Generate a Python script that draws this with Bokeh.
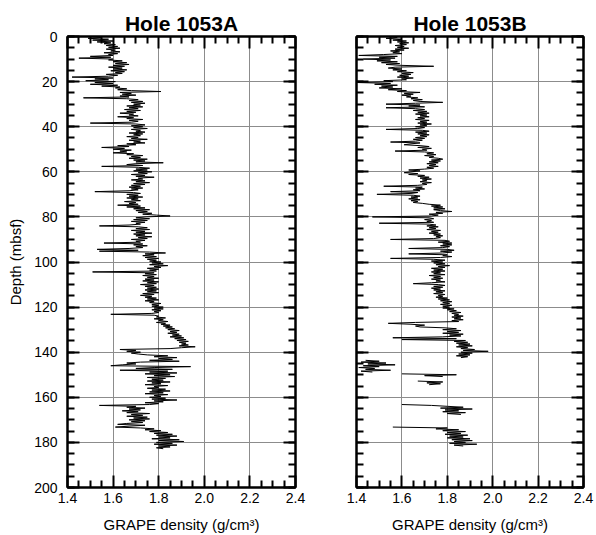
from bokeh.plotting import figure
from bokeh.models import (Range1d, LinearAxis, Grid, SingleIntervalTicker, FixedTicker,
                          PrintfTickFormatter, ColumnDataSource, CustomLabelingPolicy)
from bokeh.layouts import row
from bokeh.embed import file_html
from bokeh.resources import INLINE

NaN = float("nan")

# GRAPE bulk density log, Hole 1053A (depth in mbsf, density in g/cm3)
depth_a = [
    0.4, 0.8, 1.2, 1.6, 2.0, 2.4, 2.8, 3.2, 3.6, 4.0,
    4.4, 4.8, 5.2, 5.6, 6.0, 6.4, 6.8, 7.2, 7.6, 8.0,
    8.4, 8.8, 9.2, 9.6, 10.0, 10.4, 10.8, 11.2, 11.6, 12.0,
    12.4, 12.8, 13.2, 13.6, 14.0, 14.4, 14.8, 15.2, 15.6, 16.0,
    16.4, 16.8, 17.2, 17.6, 18.0, 18.4, 18.8, 19.2, 19.6, 20.0,
    20.4, 20.8, 21.2, 21.6, 22.0, 22.4, 22.8, 23.2, 23.6, 24.0,
    24.4, 24.8, 25.2, 25.6, 26.0, 26.4, 26.8, 27.2, 27.6, 28.0,
    28.4, 28.8, 29.2, 29.6, 30.0, 30.4, 30.8, 31.2, 31.6, 32.0,
    32.4, 32.8, 33.2, 33.6, 34.0, 34.4, 34.8, 35.2, 35.6, 36.0,
    36.4, 36.8, 37.2, 37.6, 38.0, 38.4, 38.8, 39.2, 39.6, 40.0,
    40.4, 40.8, 41.2, 41.6, 42.0, 42.4, 42.8, 43.2, 43.6, 44.0,
    44.4, 44.8, 45.2, 45.6, 46.0, 46.4, 46.8, 47.2, 47.6, 48.0,
    48.4, 48.8, 49.2, 49.6, 50.0, 50.4, 50.8, 51.2, 51.6, 52.0,
    52.4, 52.8, 53.2, 53.6, 54.0, 54.4, 54.8, 55.2, 55.6, 56.0,
    56.4, 56.8, 57.2, 57.6, 58.0, 58.4, 58.8, 59.2, 59.6, 60.0,
    60.4, 60.8, 61.2, 61.6, 62.0, 62.4, 62.8, 63.2, 63.6, 64.0,
    64.4, 64.8, 65.2, 65.6, 66.0, 66.4, 66.8, 67.2, 67.6, 68.0,
    68.4, 68.8, 69.2, 69.6, 70.0, 70.4, 70.8, 71.2, 71.6, 72.0,
    72.4, 72.8, 73.2, 73.6, 74.0, 74.4, 74.8, 75.2, 75.6, 76.0,
    76.4, 76.8, 77.2, 77.6, 78.0, 78.4, 78.8, 79.2, 79.6, 80.0,
    80.4, 80.8, 81.2, 81.6, 82.0, 82.4, 82.8, 83.2, 83.6, 84.0,
    84.4, 84.8, 85.2, 85.6, 86.0, 86.4, 86.8, 87.2, 87.6, 88.0,
    88.4, 88.8, 89.2, 89.6, 90.0, 90.4, 90.8, 91.2, 91.6, 92.0,
    92.4, 92.8, 93.2, 93.6, 94.0, 94.4, 94.8, 95.2, 95.6, 96.0,
    96.4, 96.8, 97.2, 97.6, 98.0, 98.4, 98.8, 99.2, 99.6, 100.0,
    100.4, 100.8, 101.2, 101.6, 102.0, 102.4, 102.8, 103.2, 103.6, 104.0,
    104.4, 104.8, 105.2, 105.6, 106.0, 106.4, 106.8, 107.2, 107.6, 108.0,
    108.4, 108.8, 109.2, 109.6, 110.0, 110.4, 110.8, 111.2, 111.6, 112.0,
    112.4, 112.8, 113.2, 113.6, 114.0, 114.4, 114.8, 115.2, 115.6, 116.0,
    116.4, 116.8, 117.2, 117.6, 118.0, 118.4, 118.8, 119.2, 119.6, 120.0,
    120.4, 120.8, 121.2, 121.6, 122.0, 122.4, 122.8, 123.2, 123.6, 124.0,
    124.4, 124.8, 125.2, 125.6, 126.0, 126.4, 126.8, 127.2, 127.6, 128.0,
    128.4, 128.8, 129.2, 129.6, 130.0, 130.4, 130.8, 131.2, 131.6, 132.0,
    132.4, 132.8, 133.2, 133.6, 134.0, 134.4, 134.8, 135.2, 135.6, 136.0,
    136.4, 136.8, 137.2, 137.6, 138.0, 138.4, 138.8, 139.2, 139.6, 140.0,
    140.4, 140.8, 141.2, 141.6, 142.0, 142.4, 142.8, 143.2, 143.6, 144.0,
    144.4, 144.8, 145.2, 145.6, 146.0, 146.4, 146.8, 147.2, 147.6, 148.0,
    148.4, 148.8, 149.2, 149.6, 150.0, 150.4, 150.8, 151.2, 151.6, 152.0,
    152.4, 152.8, 153.2, 153.6, 154.0, 154.4, 154.8, 155.2, 155.6, 156.0,
    156.4, 156.8, 157.2, 157.6, 158.0, 158.4, 158.8, 159.2, 159.6, 160.0,
    160.4, 160.8, 161.2, 161.6, 162.0, 162.4, 162.8, 163.2, 163.6, 164.0,
    164.4, 164.8, 165.2, 165.6, 166.0, 166.4, 166.8, 167.2, 167.6, 168.0,
    168.4, 168.8, 169.2, 169.6, 170.0, 170.4, 170.8, 171.2, 171.6, 172.0,
    172.4, 172.8, 173.2, 173.6, 174.0, 174.4, 174.8, 175.2, 175.6, 176.0,
    176.4, 176.8, 177.2, 177.6, 178.0, 178.4, 178.8, 179.2, 179.6, 180.0,
    180.4, 180.8, 181.2, 181.6, 182.0, 182.4, 182.8,
]
density_a = [
    1.55, 1.49, 1.58, 1.51, 1.60, 1.53, 1.59, 1.56, 1.61, 1.57,
    1.62, 1.58, 1.63, 1.57, 1.61, 1.59, 1.63, 1.56, 1.62, 1.58,
    1.60, 1.50, 1.59, 1.45, 1.60, 1.58, 1.64, 1.60, 1.66, 1.61,
    1.67, 1.60, 1.65, 1.58, 1.64, 1.60, 1.66, 1.59, 1.65, 1.61,
    1.64, 1.57, 1.62, 1.58, 1.42, 1.60, 1.52, 1.58, 1.48, 1.61,
    1.52, 1.60, 1.50, 1.62, 1.55, 1.63, 1.61, 1.66, 1.62, 1.68,
    1.81, 1.63, 1.68, 1.64, 1.70, 1.63, 1.67, 1.47, 1.66, 1.71,
    1.67, 1.73, 1.68, 1.74, 1.69, 1.72, 1.66, 1.73, 1.67, 1.71,
    1.65, 1.72, 1.66, 1.70, 1.63, 1.69, 1.67, 1.71, 1.62, 1.69,
    1.66, 1.73, 1.67, 1.71, 1.68, 1.50, 1.70, 1.74, 1.68, 1.73,
    1.69, 1.75, 1.68, 1.72, 1.70, 1.74, 1.67, 1.73, 1.69, 1.72,
    1.66, 1.71, 1.68, 1.75, 1.67, 1.72, 1.69, 1.74, 1.66, 1.70,
    1.62, 1.67, 1.55, 1.65, 1.60, 1.68, 1.63, 1.66, 1.60, 1.69,
    1.66, 1.73, 1.68, 1.72, 1.67, 1.75, 1.69, 1.74, 1.70, 1.82,
    1.70, 1.66, 1.73, 1.55, 1.71, 1.76, 1.70, 1.75, 1.69, 1.77,
    1.71, 1.75, 1.68, 1.74, 1.70, 1.78, 1.71, 1.73, 1.68, 1.74,
    1.70, 1.76, 1.69, 1.74, 1.68, 1.72, 1.67, 1.73, 1.68, 1.71,
    1.67, 1.52, 1.69, 1.72, 1.66, 1.71, 1.67, 1.73, 1.66, 1.71,
    1.68, 1.72, 1.65, 1.70, 1.67, 1.71, 1.62, 1.72, 1.66, 1.74,
    1.69, 1.76, 1.70, 1.75, 1.71, 1.77, 1.73, 1.79, 1.85, 1.74,
    1.70, 1.76, 1.69, 1.75, 1.68, 1.74, 1.70, 1.72, 1.67, 1.54,
    1.71, 1.75, 1.70, 1.76, 1.68, 1.74, 1.70, 1.77, 1.69, 1.74,
    1.70, 1.77, 1.71, 1.75, 1.68, 1.74, 1.70, 1.72, 1.56, 1.73,
    1.69, 1.75, 1.70, 1.73, 1.67, 1.53, 1.71, 1.54, 1.76, 1.83,
    1.74, 1.78, 1.73, 1.79, 1.74, 1.80, 1.75, 1.79, 1.76, 1.81,
    1.77, 1.82, 1.76, 1.84, 1.78, 1.81, 1.75, 1.80, 1.76, 1.79,
    1.51, 1.78, 1.74, 1.79, 1.73, 1.78, 1.75, 1.80, 1.74, 1.78,
    1.73, 1.80, 1.75, 1.79, 1.72, 1.78, 1.74, 1.79, 1.75, 1.80,
    1.74, 1.79, 1.75, 1.80, 1.73, 1.78, 1.72, 1.77, 1.74, 1.79,
    1.75, 1.80, 1.74, 1.78, 1.76, 1.81, 1.77, 1.80, 1.77, 1.82,
    1.78, 1.82, 1.77, 1.81, 1.78, 1.80, 1.77, 1.59, 1.78, 1.80,
    1.79, 1.83, 1.78, 1.82, 1.80, 1.84, 1.79, 1.83, 1.81, 1.85,
    1.82, 1.86, 1.83, 1.87, 1.84, 1.89, 1.85, 1.88, 1.84, 1.89,
    1.86, 1.90, 1.85, 1.91, 1.87, 1.92, 1.88, 1.93, 1.89, 1.92,
    1.90, 1.93, 1.89, 1.96, 1.90, 1.85, 1.63, 1.70, 1.66, 1.72,
    1.68, 1.71, 1.75, 1.84, 1.78, 1.88, 1.80, 1.86, 1.76, 1.89,
    1.72, 1.66, 1.70, 1.64, 1.59, 1.94, 1.78, 1.70, 1.86, 1.63,
    1.84, 1.76, 1.88, 1.74, 1.85, 1.78, 1.87, 1.75, 1.83, 1.77,
    1.82, 1.75, 1.85, 1.77, 1.81, 1.74, 1.84, 1.78, 1.80, 1.75,
    1.83, 1.77, 1.85, 1.76, 1.82, 1.74, 1.84, 1.78, 1.81, 1.76,
    1.83, 1.77, 1.88, 1.78, 1.82, 1.74, 1.80, 1.76, 1.54, 1.70,
    1.66, 1.74, 1.67, 1.72, 1.64, 1.71, 1.66, 1.76, 1.68, 1.73,
    1.66, 1.75, 1.69, 1.76, 1.67, 1.74, 1.68, 1.73, 1.66, 1.62,
    1.74, 1.67, 1.61, 1.72, 1.78, 1.74, 1.81, 1.76, 1.84, 1.78,
    1.86, 1.79, 1.88, 1.80, 1.85, 1.77, 1.89, 1.80, 1.91, 1.79,
    1.86, 1.78, 1.88, 1.80, 1.85, 1.79, 1.82,
]

# Hole 1053B; NaN marks core gaps where the log is broken
depth_b = [
    0.4, 0.8, 1.2, 1.6, 2.0, 2.4, 2.8, 3.2, 3.6, 4.0,
    4.4, 4.8, 5.2, 5.6, 6.0, 6.4, 6.8, 7.2, 7.6, 8.0,
    8.4, 8.8, 9.2, 9.6, 10.0, 10.4, 10.8, 11.2, 11.6, 12.0,
    12.4, 12.8, 13.2, 13.6, 14.0, 14.4, 14.8, 15.2, 15.6, 16.0,
    16.4, 16.8, 17.2, 17.6, 18.0, 18.4, 18.8, 19.2, 19.6, 20.0,
    20.4, 20.8, 21.2, 21.6, 22.0, 22.4, 22.8, 23.2, 23.6, 24.0,
    24.4, 24.8, 25.2, 25.6, 26.0, 26.4, 26.8, 27.2, 27.6, 28.0,
    28.4, 28.8, 29.2, 29.6, 30.0, 30.4, 30.8, 31.2, 31.6, 32.0,
    32.4, 32.8, 33.2, 33.6, 34.0, 34.4, 34.8, 35.2, 35.6, 36.0,
    36.4, 36.8, 37.2, 37.6, 38.0, 38.4, 38.8, 39.2, 39.6, 40.0,
    40.4, 40.8, 41.2, 41.6, 42.0, 42.4, 42.8, 43.2, 43.6, 44.0,
    44.4, 44.8, 45.2, 45.6, 46.0, 46.4, 46.8, 47.2, 47.6, 48.0,
    48.4, 48.8, 49.2, 49.6, 50.0, 50.4, 50.8, 51.2, 51.6, 52.0,
    52.4, 52.8, 53.2, 53.6, 54.0, 54.4, 54.8, 55.2, 55.6, 56.0,
    56.4, 56.8, 57.2, 57.6, 58.0, 58.4, 58.8, 59.2, 59.6, 60.0,
    60.4, 60.8, 61.2, 61.6, 62.0, 62.4, 62.8, 63.2, 63.6, 64.0,
    64.4, 64.8, 65.2, 65.6, 66.0, 66.4, 66.8, 67.2, 67.6, 68.0,
    68.4, 68.8, 69.2, 69.6, 70.0, 70.4, 70.8, 71.2, 71.6, 72.0,
    72.4, 72.8, 73.2, 73.6, 74.0, 74.4, 74.8, 75.2, 75.6, 76.0,
    76.4, 76.8, 77.2, 77.6, 78.0, 78.4, 78.8, 79.2, 79.6, 80.0,
    80.4, 80.8, 81.2, 81.6, 82.0, 82.4, 82.8, 83.2, 83.6, 84.0,
    84.4, 84.8, 85.2, 85.6, 86.0, 86.4, 86.8, 87.2, 87.6, 88.0,
    88.4, 88.8, 89.2, 89.6, 90.0, 90.4, 90.8, 91.2, 91.6, 92.0,
    92.4, 92.8, 93.2, 93.6, 94.0, 94.4, 94.8, 95.2, 95.6, 96.0,
    96.4, 96.8, 97.2, 97.6, 98.0, 98.4, 98.8, 99.2, 99.6, 100.0,
    100.4, 100.8, 101.2, 101.6, 102.0, 102.4, 102.8, 103.2, 103.6, 104.0,
    104.4, 104.8, 105.2, 105.6, 106.0, 106.4, 106.8, 107.2, 107.6, 108.0,
    108.4, 108.8, 109.2, 109.6, 110.0, 110.4, 110.8, 111.2, 111.6, 112.0,
    112.4, 112.8, 113.2, 113.6, 114.0, 114.4, 114.8, 115.2, 115.6, 116.0,
    116.4, 116.8, 117.2, 117.6, 118.0, 118.4, 118.8, 119.2, 119.6, 120.0,
    120.4, 120.8, 121.2, 121.6, 122.0, 122.4, 122.8, 123.2, 123.6, 124.0,
    124.4, 124.8, 125.2, 125.6, 126.0, 126.4, 126.8, 127.2, 127.6, 128.0,
    128.4, 128.8, 129.2, 129.6, 130.0, 130.4, 130.8, 131.2, 131.6, 132.0,
    132.4, 132.8, 133.2, 133.6, 134.0, 134.4, 134.8, 135.2, 135.6, 136.0,
    136.4, 136.8, 137.2, 137.6, 138.0, 138.4, 138.8, 139.2, 139.6, 140.0,
    140.4, 140.8, 141.2, 141.6, 142.0, 142.4, NaN,
    143.6, 144.0, 144.4, 144.8, 145.2, 145.6, 146.0, 146.4, 146.8, 147.2,
    147.6, 148.0, 148.4, 148.8, NaN,
    149.6, 150.0, 150.4, 150.8, NaN,
    152.8, 153.2, 153.6, 154.0, 154.4, NaN,
    163.2, 163.6, 164.0, 164.4, 164.8, 165.2, 165.6, 166.0, 166.4, 166.8,
    167.2, 167.6, NaN,
    173.2, 173.6, 174.0, 174.4, 174.8, 175.2, 175.6, 176.0, 176.4, 176.8,
    177.2, 177.6, 178.0, 178.4, 178.8, 179.2, 179.6, 180.0, 180.4, 180.8,
    181.2, 181.6,
]
density_b = [
    1.58, 1.53, 1.60, 1.56, 1.62, 1.58, 1.63, 1.59, 1.62, 1.57,
    1.61, 1.58, 1.63, 1.57, 1.61, 1.55, 1.59, 1.56, 1.60, 1.52,
    1.41, 1.58, 1.50, 1.57, 1.43, 1.55, 1.49, 1.58, 1.51, 1.59,
    1.53, 1.60, 1.74, 1.57, 1.54, 1.60, 1.56, 1.62, 1.58, 1.65,
    1.60, 1.64, 1.59, 1.63, 1.58, 1.65, 1.60, 1.62, 1.52, 1.56,
    1.40, 1.55, 1.48, 1.58, 1.51, 1.56, 1.50, 1.60, 1.54, 1.62,
    1.58, 1.68, 1.61, 1.65, 1.60, 1.64, 1.62, 1.67, 1.64, 1.69,
    1.65, 1.68, 1.78, 1.66, 1.53, 1.68, 1.63, 1.70, 1.53, 1.66,
    1.70, 1.65, 1.71, 1.67, 1.72, 1.66, 1.71, 1.68, 1.72, 1.67,
    1.70, 1.66, 1.72, 1.68, 1.71, 1.67, 1.73, 1.68, 1.71, 1.66,
    1.70, 1.67, 1.53, 1.69, 1.72, 1.66, 1.71, 1.67, 1.72, 1.68,
    1.71, 1.66, 1.70, 1.65, 1.69, 1.66, 1.55, 1.68, 1.64, 1.61,
    1.68, 1.72, 1.67, 1.73, 1.69, 1.71, 1.57, 1.70, 1.74, 1.71,
    1.75, 1.70, 1.74, 1.72, 1.76, 1.78, 1.73, 1.77, 1.72, 1.76,
    1.71, 1.75, 1.72, 1.76, 1.71, 1.74, 1.70, 1.63, 1.68, 1.64,
    1.61, 1.67, 1.63, 1.70, 1.67, 1.72, 1.68, 1.73, 1.69, 1.71,
    1.68, 1.73, 1.69, 1.71, 1.67, 1.52, 1.69, 1.66, 1.70, 1.65,
    1.68, 1.55, 1.67, 1.64, 1.49, 1.65, 1.68, 1.64, 1.67, 1.63,
    1.68, 1.64, 1.67, 1.65, 1.69, 1.72, 1.77, 1.73, 1.78, 1.74,
    1.79, 1.74, 1.77, 1.82, 1.75, 1.78, 1.72, 1.76, 1.73, 1.47,
    1.72, 1.74, 1.70, 1.73, 1.71, 1.74, 1.50, 1.72, 1.75, 1.71,
    1.76, 1.72, 1.75, 1.71, 1.77, 1.73, 1.76, 1.72, 1.77, 1.74,
    1.78, 1.75, 1.77, 1.74, 1.55, 1.79, 1.81, 1.76, 1.82, 1.78,
    1.82, 1.77, 1.81, 1.78, 1.63, 1.80, 1.83, 1.77, 1.82, 1.78,
    1.63, 1.80, 1.78, 1.82, 1.77, 1.55, 1.74, 1.79, 1.73, 1.78,
    1.74, 1.79, 1.75, 1.81, 1.76, 1.79, 1.73, 1.78, 1.74, 1.79,
    1.73, 1.77, 1.74, 1.79, 1.72, 1.77, 1.74, 1.78, 1.73, 1.77,
    1.75, 1.79, 1.73, 1.65, 1.76, 1.79, 1.74, 1.78, 1.73, 1.77,
    1.74, 1.79, 1.75, 1.78, 1.74, 1.79, 1.76, 1.78, 1.75, 1.80,
    1.76, 1.81, 1.77, 1.82, 1.78, 1.81, 1.77, 1.82, 1.78, 1.81,
    1.78, 1.83, 1.80, 1.84, 1.81, 1.86, 1.82, 1.85, 1.83, 1.87,
    1.82, 1.86, 1.83, 1.87, 1.82, 1.85, 1.66, 1.54, 1.64, 1.70,
    1.66, 1.68, 1.79, 1.84, 1.78, 1.86, 1.80, 1.85, 1.78, 1.87,
    1.81, 1.86, 1.78, 1.56, 1.84, 1.60, 1.88, 1.83, 1.89, 1.84,
    1.90, 1.85, 1.91, 1.84, 1.89, 1.86, 1.92, 1.87, 1.98, 1.86,
    1.91, 1.85, 1.90, 1.84, 1.89, 1.86, NaN,
    1.44, 1.50, 1.42, 1.53, 1.45, 1.57, 1.43, 1.50, 1.41, 1.48,
    1.44, 1.55, 1.42, 1.47, NaN,
    1.60, 1.84, 1.70, 1.78, NaN,
    1.67, 1.78, 1.71, 1.77, 1.72, NaN,
    1.60, 1.73, 1.80, 1.87, 1.77, 1.91, 1.79, 1.85, 1.78, 1.88,
    1.80, 1.86, NaN,
    1.56, 1.80, 1.75, 1.85, 1.78, 1.88, 1.80, 1.86, 1.79, 1.89,
    1.81, 1.87, 1.80, 1.90, 1.82, 1.91, 1.83, 1.88, 1.81, 1.93,
    1.83, 1.87,
]

x_limits = (1.4, 2.4)
x_ticks = [1.4, 1.6, 1.8, 2.0, 2.2, 2.4]
x_minor_ticks = [1.45, 1.5, 1.55, 1.65, 1.7, 1.75, 1.85, 1.9, 1.95,
                 2.05, 2.1, 2.15, 2.25, 2.3, 2.35]
depth_limits = (200, 0)
depth_step = 20

FONT = "Liberation Sans"
GRID = "#8c8c8c"

# tick marks without any numbers (top and right frame edges)
NO_LABELS = """
const all = [...indices]
for (const i of all) indices.unset(i)
return indices
"""


def style_axis(ax, labelled):
    ax.axis_line_color = "black"
    ax.axis_line_width = 2
    ax.major_tick_in = 12
    ax.major_tick_out = 0
    ax.major_tick_line_width = 2
    ax.major_tick_line_color = "black"
    ax.minor_tick_in = 7
    ax.minor_tick_out = 0
    ax.minor_tick_line_width = 2
    ax.minor_tick_line_color = "black"
    ax.major_label_text_font = FONT
    ax.major_label_text_color = "black"
    if labelled:
        ax.major_label_text_font_size = "14px"
    else:
        ax.major_label_policy = CustomLabelingPolicy(code=NO_LABELS)
        ax.major_label_text_font_size = "0px"
        ax.major_label_standoff = 0


def panel(title, depth, dens, width, left, right, y_labels):
    p = figure(width=width, height=535, output_backend="svg", toolbar_location=None,
               x_range=Range1d(*x_limits), y_range=Range1d(*depth_limits),
               x_axis_type=None, y_axis_type=None,
               min_border_left=left, min_border_right=right,
               min_border_top=36, min_border_bottom=47,
               background_fill_color="white", border_fill_color="white",
               outline_line_color="black", outline_line_width=2)
    p.title.text = title
    p.title.align = "center"
    p.title.text_font = FONT
    p.title.text_font_size = "21px"
    p.title.text_font_style = "bold"
    p.title.text_color = "black"
    p.title.standoff = 4

    xt = FixedTicker(ticks=x_ticks, minor_ticks=x_minor_ticks)
    yt = SingleIntervalTicker(interval=depth_step, num_minor_ticks=4)

    bottom = LinearAxis(ticker=xt, formatter=PrintfTickFormatter(format="%.1f"),
                        axis_label="GRAPE density (g/cm³)")
    style_axis(bottom, True)
    bottom.major_label_standoff = 5
    bottom.axis_label_standoff = 10
    bottom.axis_label_text_font = FONT
    bottom.axis_label_text_font_size = "15px"
    bottom.axis_label_text_font_style = "normal"
    bottom.axis_label_text_color = "black"
    p.add_layout(bottom, "below")

    top = LinearAxis(ticker=xt)
    style_axis(top, False)
    p.add_layout(top, "above")

    lft = LinearAxis(ticker=yt, axis_label="Depth (mbsf)" if y_labels else None)
    style_axis(lft, y_labels)
    if y_labels:
        lft.major_label_standoff = 10
        lft.axis_label_standoff = 7
        lft.axis_label_text_font = FONT
        lft.axis_label_text_font_size = "15px"
        lft.axis_label_text_font_style = "normal"
        lft.axis_label_text_color = "black"
    p.add_layout(lft, "left")

    rgt = LinearAxis(ticker=yt)
    style_axis(rgt, False)
    p.add_layout(rgt, "right")

    p.add_layout(Grid(dimension=0, ticker=xt, grid_line_color=GRID, grid_line_width=1))
    p.add_layout(Grid(dimension=1, ticker=yt, grid_line_color=GRID, grid_line_width=1))

    src = ColumnDataSource(data=dict(density=dens, depth=depth))
    p.line(x="density", y="depth", source=src, line_color="black", line_width=1)
    return p


pa = panel("Hole 1053A", depth_a, density_a, 306, 67, 11, True)
pb = panel("Hole 1053B", depth_b, density_b, 290, 50, 13, False)

layout = row(pa, pb, spacing=0)
open("out.html", "w").write(file_html(layout, INLINE))
